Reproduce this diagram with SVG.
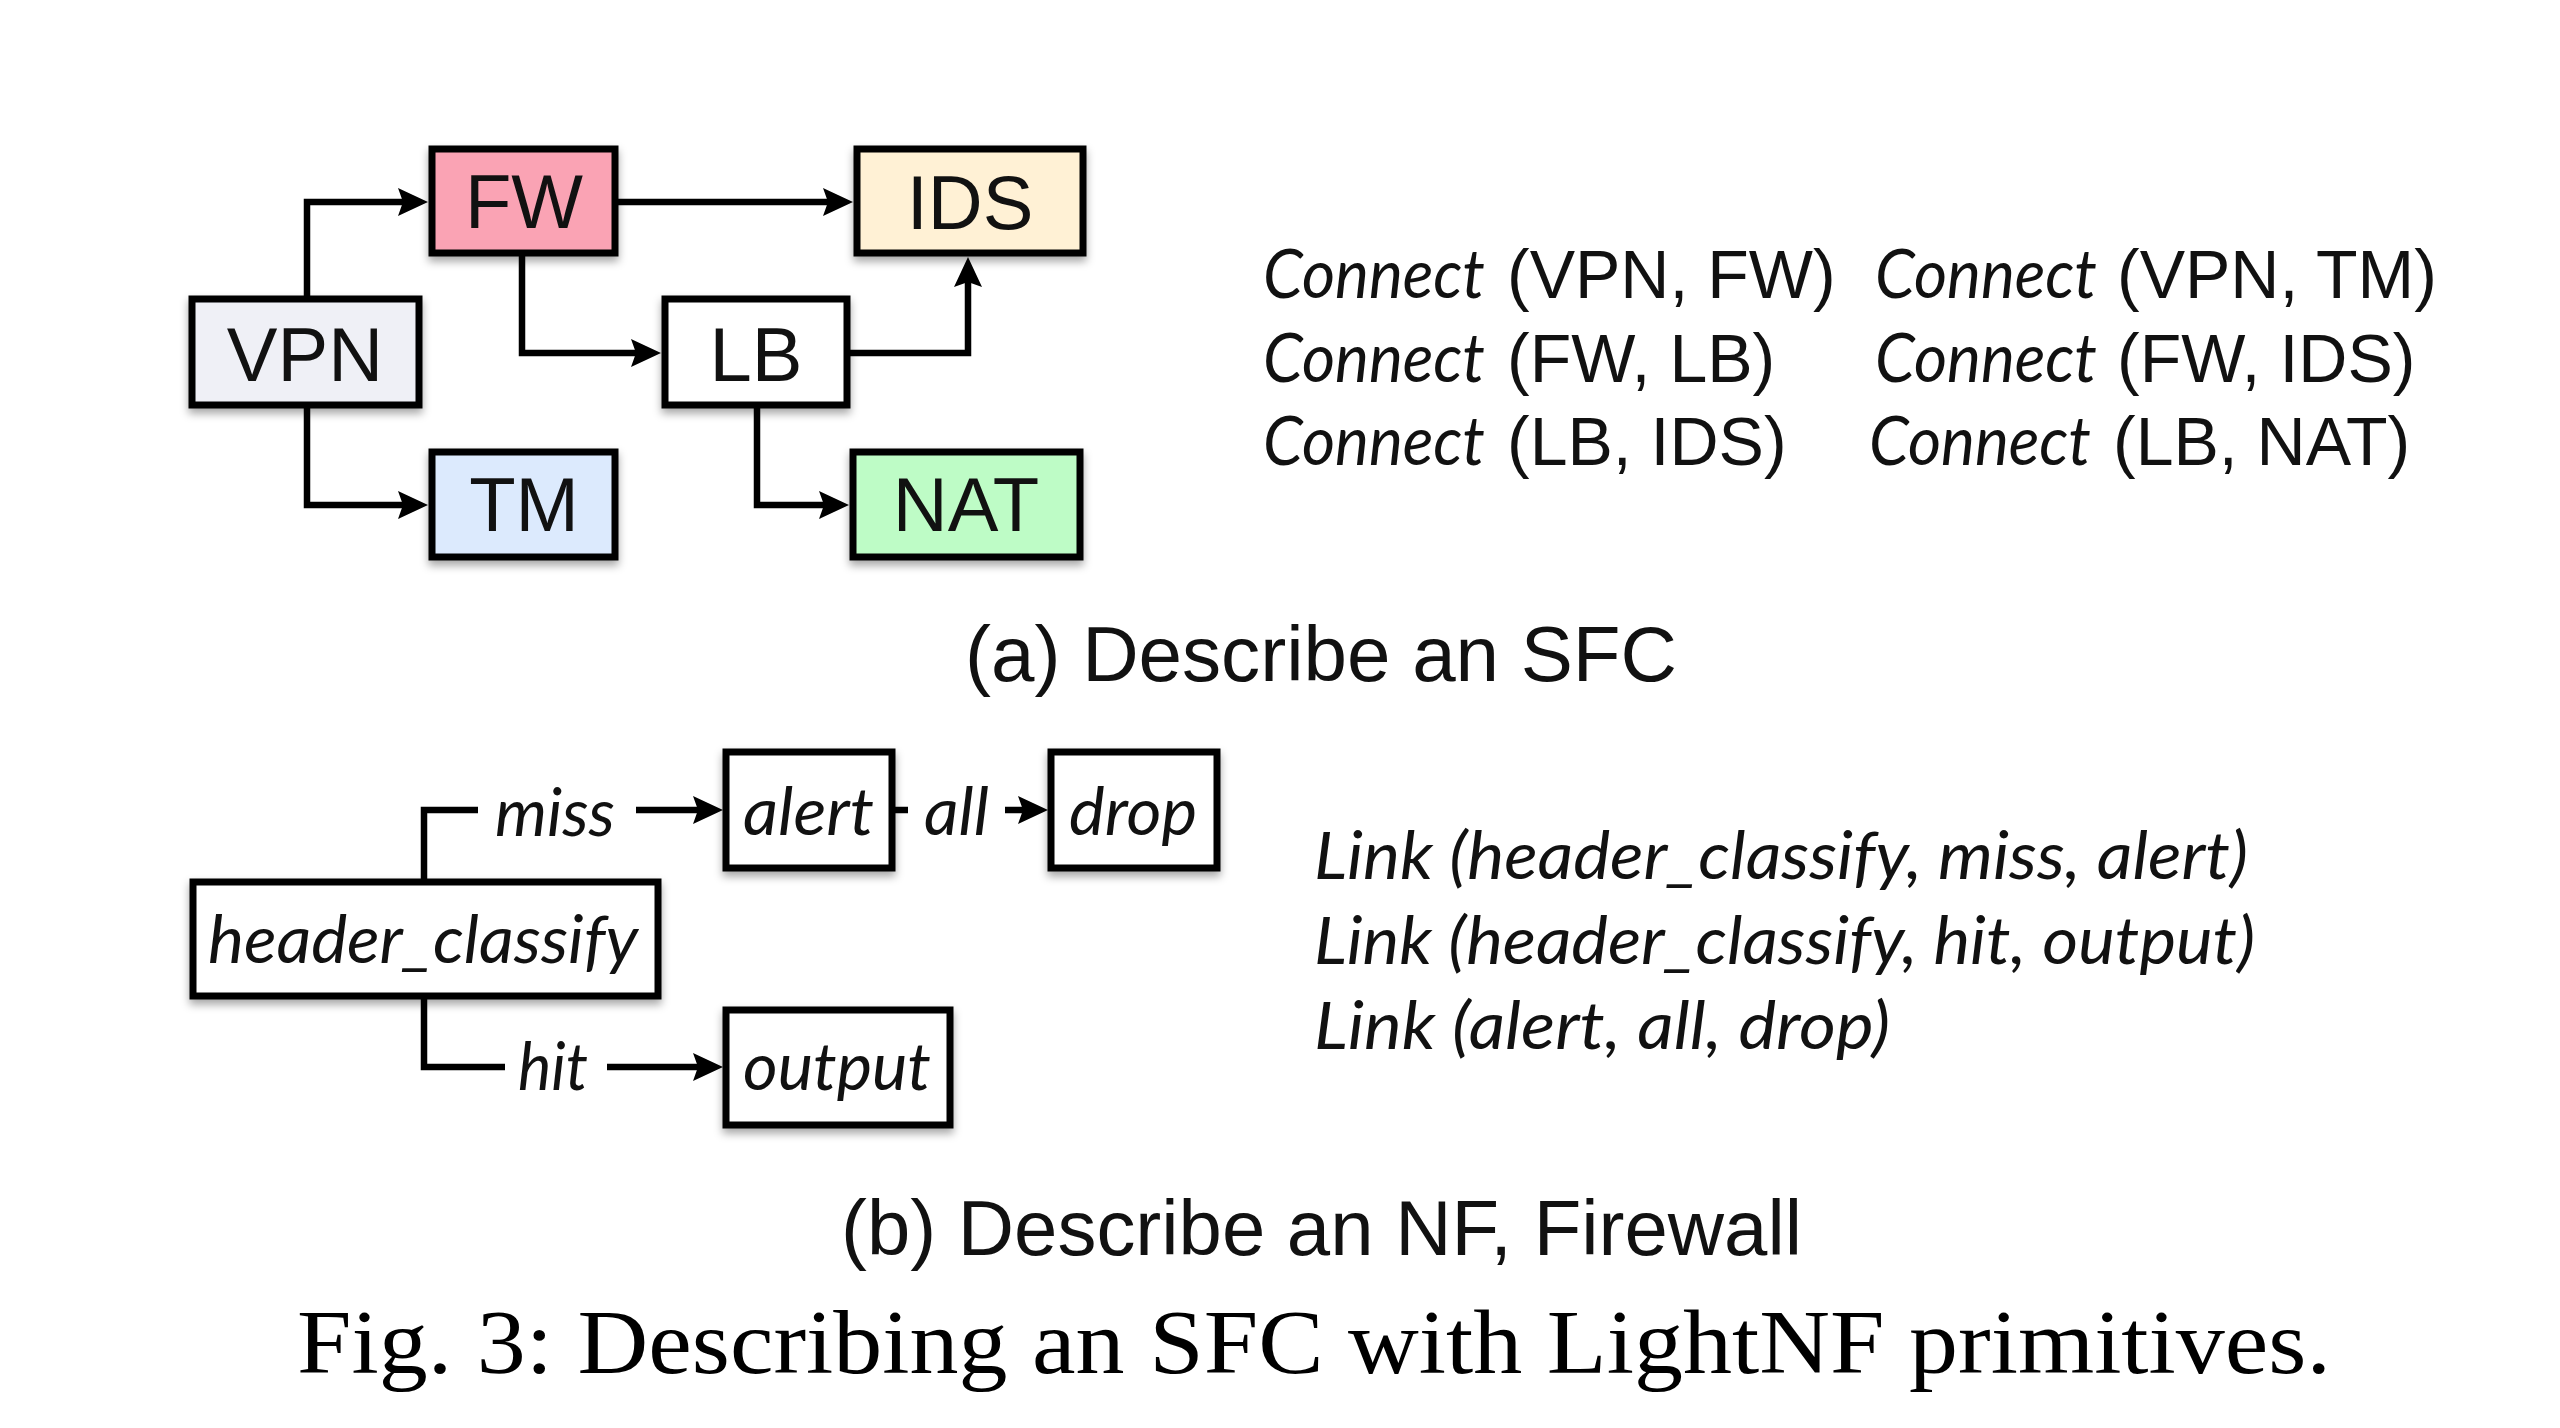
<svg xmlns="http://www.w3.org/2000/svg" width="2560" height="1428" viewBox="0 0 2560 1428">
<style>
  .box { stroke: #000; stroke-width: 7; filter: url(#sh); }
  .nf { font-family: "Liberation Sans", Arial, sans-serif; font-size: 76px; fill: #111; text-anchor: middle; }
  .conn { fill: none; stroke: #000; stroke-width: 6.5; stroke-linejoin: miter; stroke-linecap: butt; }
  .it { font-family: Lato, "Open Sans", sans-serif; font-style: italic; fill: #111; }
  .lab { font-family: Lato, "Open Sans", sans-serif; font-style: italic; font-size: 65px; fill: #111; }
  .ar { font-family: "Liberation Sans", Arial, sans-serif; fill: #111; }
  .cap { font-family: "Liberation Sans", Arial, sans-serif; fill: #111; }
  .fig { font-family: "Liberation Serif", "Times New Roman", serif; font-size: 90px; fill: #000; }
</style>
<defs>
  <filter id="sh" x="-10%" y="-10%" width="120%" height="130%">
    <feDropShadow dx="0" dy="5" stdDeviation="4" flood-color="#000" flood-opacity="0.35"/>
  </filter>
  <marker id="arr" markerUnits="userSpaceOnUse" viewBox="-10 -16 34 32" refX="0" refY="0" markerWidth="34" markerHeight="32" orient="auto" overflow="visible">
    <path d="M22,0 L-8,-14 L-3,0 L-8,14 Z" fill="#000"/>
  </marker>
</defs>
<rect width="2560" height="1428" fill="#fff"/>

<!-- (a) nodes -->
<g id="node-fw">
  <rect class="box" x="432" y="149" width="183" height="104" fill="#FAA3B4"/>
  <text class="nf" x="524" y="228">FW</text>
</g>
<g id="node-ids">
  <rect class="box" x="857" y="149" width="226" height="104" fill="#FFF1D5"/>
  <text class="nf" x="970" y="229">IDS</text>
</g>
<g id="node-vpn">
  <rect class="box" x="192" y="299" width="227" height="106" fill="#EFF0F6"/>
  <text class="nf" x="305" y="381">VPN</text>
</g>
<g id="node-lb">
  <rect class="box" x="665" y="299" width="182" height="106" fill="#FFFFFF"/>
  <text class="nf" x="756" y="381">LB</text>
</g>
<g id="node-tm">
  <rect class="box" x="432" y="452" width="183" height="105" fill="#DCEAFD"/>
  <text class="nf" x="524" y="531">TM</text>
</g>
<g id="node-nat">
  <rect class="box" x="853" y="452" width="227" height="105" fill="#BEFCC6"/>
  <text class="nf" x="966" y="531">NAT</text>
</g>

<!-- (b) nodes -->
<g id="node-header_classify">
  <rect class="box" x="193" y="882" width="465" height="114" fill="#fff"/>
  <text class="lab" x="208" y="963" textLength="430" lengthAdjust="spacingAndGlyphs">header_classify</text>
</g>
<g id="node-alert">
  <rect class="box" x="726" y="752" width="166" height="116" fill="#fff"/>
  <text class="lab" x="743" y="835" textLength="131" lengthAdjust="spacingAndGlyphs">alert</text>
</g>
<g id="node-drop">
  <rect class="box" x="1051" y="752" width="166" height="116" fill="#fff"/>
  <text class="lab" x="1069" y="835" textLength="128" lengthAdjust="spacingAndGlyphs">drop</text>
</g>
<g id="node-output">
  <rect class="box" x="726" y="1010" width="224" height="115" fill="#fff"/>
  <text class="lab" x="743" y="1090" textLength="188" lengthAdjust="spacingAndGlyphs">output</text>
</g>

<!-- connectors -->
<g id="connectors">
  <path class="conn" d="M307,299 V202 H406" marker-end="url(#arr)"/>
  <path class="conn" d="M307,405 V505 H406" marker-end="url(#arr)"/>
  <path class="conn" d="M615,202 H831" marker-end="url(#arr)"/>
  <path class="conn" d="M522,253 V353 H639" marker-end="url(#arr)"/>
  <path class="conn" d="M847,353 H968 V279" marker-end="url(#arr)"/>
  <path class="conn" d="M757,405 V505 H827" marker-end="url(#arr)"/>

  <path class="conn" d="M424,882 V810 H478"/>
  <path class="conn" d="M636,810 H701" marker-end="url(#arr)"/>
  <text class="lab" x="495" y="836" textLength="120" lengthAdjust="spacingAndGlyphs">miss</text>
  <path class="conn" d="M424,996 V1067 H505"/>
  <path class="conn" d="M607,1067 H701" marker-end="url(#arr)"/>
  <text class="lab" x="518" y="1090" textLength="70" lengthAdjust="spacingAndGlyphs">hit</text>
  <path class="conn" d="M892,810 H908"/>
  <path class="conn" d="M1005,810 H1026" marker-end="url(#arr)"/>
  <text class="lab" x="924" y="835" textLength="65" lengthAdjust="spacingAndGlyphs">all</text>
</g>

<!-- (a) text -->
<g id="connect-list">
  <text y="298"><tspan class="it" font-size="67" x="1263" textLength="222" lengthAdjust="spacingAndGlyphs">Connect</tspan><tspan class="ar" font-size="68" x="1507">(VPN, FW)</tspan></text>
  <text y="382"><tspan class="it" font-size="67" x="1263" textLength="222" lengthAdjust="spacingAndGlyphs">Connect</tspan><tspan class="ar" font-size="68" x="1507">(FW, LB)</tspan></text>
  <text y="465"><tspan class="it" font-size="67" x="1263" textLength="222" lengthAdjust="spacingAndGlyphs">Connect</tspan><tspan class="ar" font-size="68" x="1507">(LB, IDS)</tspan></text>
  <text y="298"><tspan class="it" font-size="67" x="1875" textLength="222" lengthAdjust="spacingAndGlyphs">Connect</tspan><tspan class="ar" font-size="68" x="2117">(VPN, TM)</tspan></text>
  <text y="382"><tspan class="it" font-size="67" x="1875" textLength="222" lengthAdjust="spacingAndGlyphs">Connect</tspan><tspan class="ar" font-size="68" x="2117">(FW, IDS)</tspan></text>
  <text y="465"><tspan class="it" font-size="67" x="1869" textLength="222" lengthAdjust="spacingAndGlyphs">Connect</tspan><tspan class="ar" font-size="68" x="2113">(LB, NAT)</tspan></text>
</g>
<text class="cap" font-size="78" x="965" y="681" textLength="712" lengthAdjust="spacingAndGlyphs">(a) Describe an SFC</text>

<!-- (b) text -->
<g id="link-list">
  <text class="it" font-size="66" x="1314" y="879" textLength="934" lengthAdjust="spacingAndGlyphs">Link (header_classify, miss, alert)</text>
  <text class="it" font-size="66" x="1314" y="964" textLength="941" lengthAdjust="spacingAndGlyphs">Link (header_classify, hit, output)</text>
  <text class="it" font-size="66" x="1314" y="1049" textLength="576" lengthAdjust="spacingAndGlyphs">Link (alert, all, drop)</text>
</g>
<text class="cap" font-size="77" x="841" y="1255" textLength="961" lengthAdjust="spacingAndGlyphs">(b) Describe an NF, Firewall</text>

<text class="fig" x="297" y="1373" textLength="2034" lengthAdjust="spacingAndGlyphs">Fig. 3: Describing an SFC with LightNF primitives.</text>
</svg>
